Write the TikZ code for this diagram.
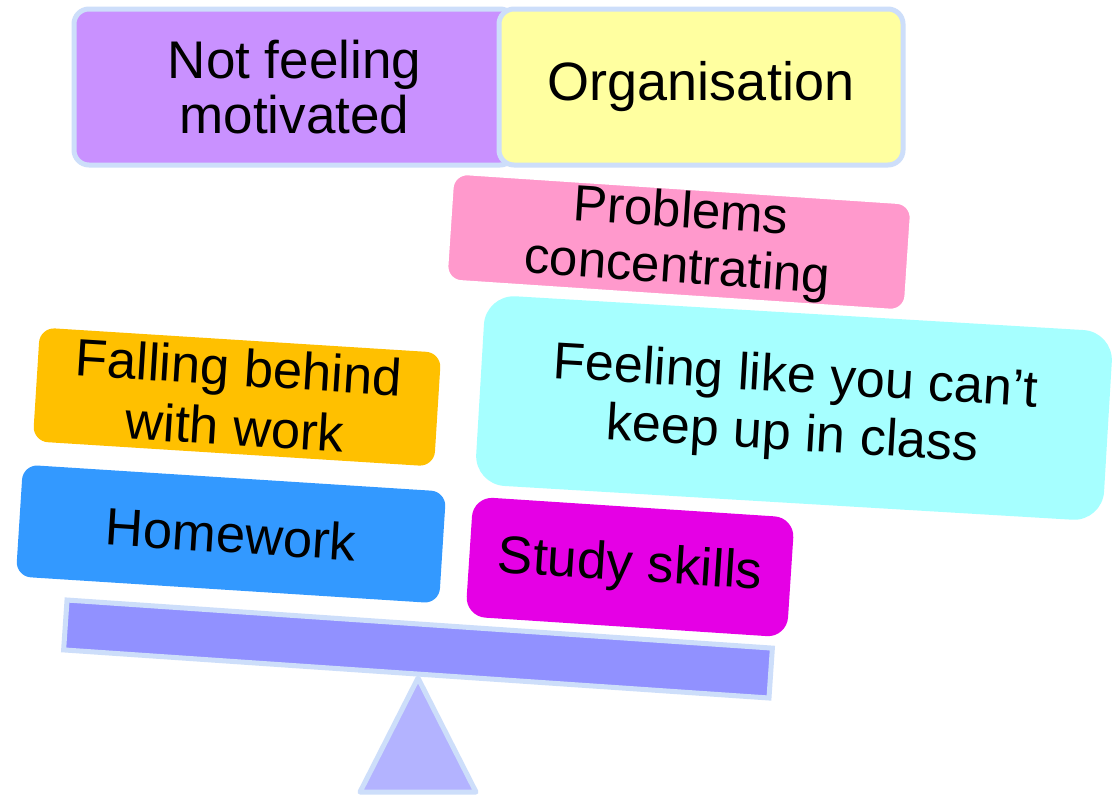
\documentclass[tikz,border=0pt]{standalone}
\usepackage{fontspec}
\setmainfont{Liberation Sans}
\definecolor{cPurple}{RGB}{201,145,255}
\definecolor{cYellow}{RGB}{255,255,160}
\definecolor{cPink}{RGB}{255,153,204}
\definecolor{cCyan}{RGB}{166,255,255}
\definecolor{cOrange}{RGB}{255,192,0}
\definecolor{cBlue}{RGB}{51,153,255}
\definecolor{cMagenta}{RGB}{229,0,229}
\definecolor{cBeam}{RGB}{145,145,255}
\definecolor{cTri}{RGB}{179,179,255}
\definecolor{cEdge}{RGB}{205,222,250}
\tikzset{
  card/.style={rectangle, rounded corners=15, inner sep=0pt, align=center, text=black},
  topcard/.style={card, draw=cEdge, line width=5pt},
}
\begin{document}
\begin{tikzpicture}[x=1pt,y=-1pt]
\useasboundingbox[fill=white] (0,0) rectangle (1115,796);
% top row
\node[topcard, fill=cPurple, minimum width=441, minimum height=156,
      font=\fontsize{53}{55}\selectfont] (motiv) at (294.5,87) {Not feeling\\motivated};
\node[topcard, fill=cYellow, minimum width=404, minimum height=156,
      font=\fontsize{54}{56}\selectfont] (organ) at (701,87) {Organisation};
% right stack
\node[card, rounded corners=30, fill=cCyan, minimum width=629, minimum height=190, rotate=-3.4,
      font=\fontsize{52}{58}\selectfont] (keepup) at (794,408) {\raisebox{4pt}{Feeling like you can’t}\\\raisebox{4pt}{keep up in class}};
\node[card, fill=cPink, draw=white, line width=3pt, minimum width=460, minimum height=108, rotate=-3.8,
      font=\fontsize{51}{56}\selectfont] (concen) at (679,242) {Problems\\concentrating};
% left stack
\node[card, fill=cOrange, minimum width=402, minimum height=114, rotate=-3.6,
      font=\fontsize{52.5}{60}\selectfont] (behind) at (237,397) {Falling behind\\with work};
\node[card, fill=cBlue, minimum width=424, minimum height=112, rotate=-3.65,
      font=\fontsize{52.5}{56}\selectfont] (homework) at (231,534) {Homework};
\node[card, rounded corners=20, fill=cMagenta, minimum width=322, minimum height=120, rotate=-3.75,
      font=\fontsize{53}{56}\selectfont] (study) at (630,567) {Study skills};
% seesaw
\draw[draw=cEdge, line width=5pt, fill=cTri, line join=round] (360,792) -- (418,678) -- (476,792) -- cycle;
\node[rectangle, draw=cEdge, line width=5pt, fill=cBeam, minimum width=707, minimum height=50,
      inner sep=0pt, rotate=-3.9] (beam) at (418,649) {};
\end{tikzpicture}
\end{document}
